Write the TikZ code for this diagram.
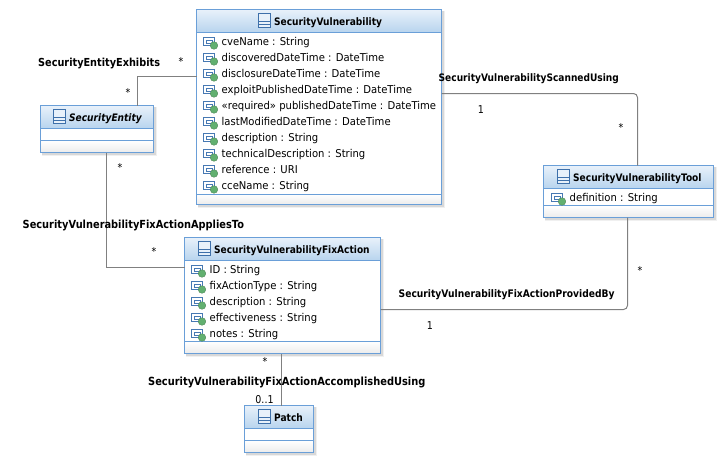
\documentclass[tikz,border=0pt]{standalone}
\usepackage{fontspec}
\setmainfont[FakeStretch=0.88]{DejaVu Sans}
\newfontfamily\attrfont[FakeStretch=0.93]{DejaVu Sans}
\definecolor{umlblue}{RGB}{106,159,216}
\definecolor{umlicon}{RGB}{62,112,170}
\definecolor{headtop}{RGB}{232,241,250}
\definecolor{headbot}{RGB}{184,212,238}
\definecolor{attrgreen}{RGB}{98,176,112}
\definecolor{assocgray}{RGB}{128,128,128}
% name, x, y, width, height, header bottom, separator, icon x, title
\newcommand{\classbox}[9]{
  \fill[black, opacity=0.06] (#2+1.5, #3+1.5) rectangle (#2+#4+3.5, #3+#5+3.5);
  \fill[black, opacity=0.10] (#2+1.5, #3+1.5) rectangle (#2+#4+2, #3+#5+2);
  \node[classframe, minimum width=#4pt, minimum height=#5pt] (#1) at (#2, #3) {};
  \fill[top color=headtop, bottom color=headbot] (#2, #3) rectangle (#2+#4, #3+#6);
  \fill[top color=white, bottom color=gray!15] (#2, #3+#7) rectangle (#2+#4, #3+#5);
  \draw[classline] (#2, #3+#6) -- +(#4, 0);
  \draw[classline] (#2, #3+#7) -- +(#4, 0);
  \draw[classline] (#2, #3) rectangle (#2+#4, #3+#5);
  % class icon
  \draw[umlicon, fill=headtop, line width=0.9pt] (#8+0.5, #3+4) rectangle (#8+12.5, #3+18);
  \draw[umlicon, line width=0.9pt] (#8+0.5, #3+12) -- +(12, 0) (#8+0.5, #3+15) -- +(12, 0);
  \node[classname] (#1-title) at (#8+16, #3+16) {#9};
}
% prefix, icon x, first baseline, rows
\newcommand{\attrrows}[4]{
  \foreach \txt [count=\i] in {#4} {
    \pgfmathsetmacro{\rowy}{#3+16*(\i-1)}
    \draw[umlicon!80!umlblue, fill=white, line width=1pt] (#2+0.5, \rowy-7.5) rectangle (#2+11.5, \rowy+0.5);
    \draw[umlicon!80!umlblue, line width=0.7pt] (#2+3.5, \rowy-5) rectangle (#2+9.5, \rowy-1.5);
    \fill[attrgreen, draw=attrgreen!70!black, line width=0.3pt] (#2+11, \rowy+0.5) circle (3.8);
    \node[attrtext] (#1-\i) at (#2+18.5, \rowy) {\txt};
  }
}

\begin{document}
\begin{tikzpicture}[x=1pt, y=-1pt]
\tikzset{
  classframe/.style={anchor=north west, inner sep=0pt, outer sep=0pt, fill=white},
  classline/.style={umlblue, line width=1pt},
  classname/.style={anchor=base west, inner sep=0pt, font={\fontsize{10.3pt}{12}\selectfont\bfseries}},
  attrtext/.style={anchor=base west, inner sep=0pt, font={\fontsize{10.8pt}{12}\attrfont}},
  assoclabel/.style={anchor=base west, inner sep=0pt, font={\fontsize{#1}{12}\selectfont\bfseries}},
  mult/.style={anchor=base, inner sep=0pt, font={\fontsize{10.8pt}{12}\selectfont}},
  assoc/.style={assocgray, line width=1pt}
}
\useasboundingbox (0, 0) rectangle (728, 467);

% Classes
\classbox{vuln}{196.5}{9.5}{245}{195}{23}{184.5}{258}{SecurityVulnerability}
\attrrows{vulnattr}{203}{45}{cveName : String, discoveredDateTime : DateTime,
  disclosureDateTime : DateTime, exploitPublishedDateTime : DateTime,
  «required» publishedDateTime : DateTime, lastModifiedDateTime : DateTime,
  description : String, technicalDescription : String, reference : URI, cceName : String}

\classbox{entity}{40.5}{105.5}{113}{47}{23}{35}{53}{\textit{SecurityEntity}}

\classbox{tool}{543.5}{165.5}{170}{52}{23}{40}{557}{SecurityVulnerabilityTool}
\attrrows{toolattr}{551}{201}{definition : String}

\classbox{fix}{184.5}{237.5}{196}{116}{23}{104}{198}{SecurityVulnerabilityFixAction}
\attrrows{fixattr}{191}{273}{ID : String, fixActionType : String, description : String,
  effectiveness : String, notes : String}

\classbox{patch}{244.5}{405.5}{69}{47}{23}{35}{258}{Patch}

% Associations
\draw[assoc] ([xshift=40.5pt]entity.north) |- ([yshift=30.5pt]vuln.west);
\draw[assoc] ([xshift=9.5pt]entity.south) |- ([yshift=28pt]fix.west);
\draw[assoc, rounded corners=4pt] ([yshift=13.5pt]vuln.east) -| ([xshift=9pt]tool.north);
\draw[assoc, rounded corners=4pt] ([yshift=-14pt]fix.east) -| ([xshift=-1pt]tool.south);
\draw[assoc] ([xshift=2.5pt]patch.north) -- ++(0, -52);

% Association names
\node[assoclabel=11.05pt] (exhibits) at (38, 66) {SecurityEntityExhibits};
\node[assoclabel=10.3pt] (scanned) at (438.5, 81) {SecurityVulnerabilityScannedUsing};
\node[assoclabel=11.15pt] (applies) at (22.5, 228) {SecurityVulnerabilityFixActionAppliesTo};
\node[assoclabel=10.4pt] (provided) at (398.5, 297) {SecurityVulnerabilityFixActionProvidedBy};
\node[assoclabel=11.2pt] (accomplished) at (148, 385) {SecurityVulnerabilityFixActionAccomplishedUsing};

% Multiplicities
\node[mult] (m1) at (181, 65) {*};
\node[mult] (m2) at (128, 96) {*};
\node[mult] (m3) at (120, 171) {*};
\node[mult] (m4) at (154, 255) {*};
\node[mult] (m5) at (621, 131) {*};
\node[mult] (m6) at (640, 274) {*};
\node[mult] (m7) at (265, 365) {*};
\node[mult] (m8) at (481, 113) {1};
\node[mult] (m9) at (430, 329) {1};
\node[mult] (m10) at (264.5, 403) {0..1};

\end{tikzpicture}
\end{document}
